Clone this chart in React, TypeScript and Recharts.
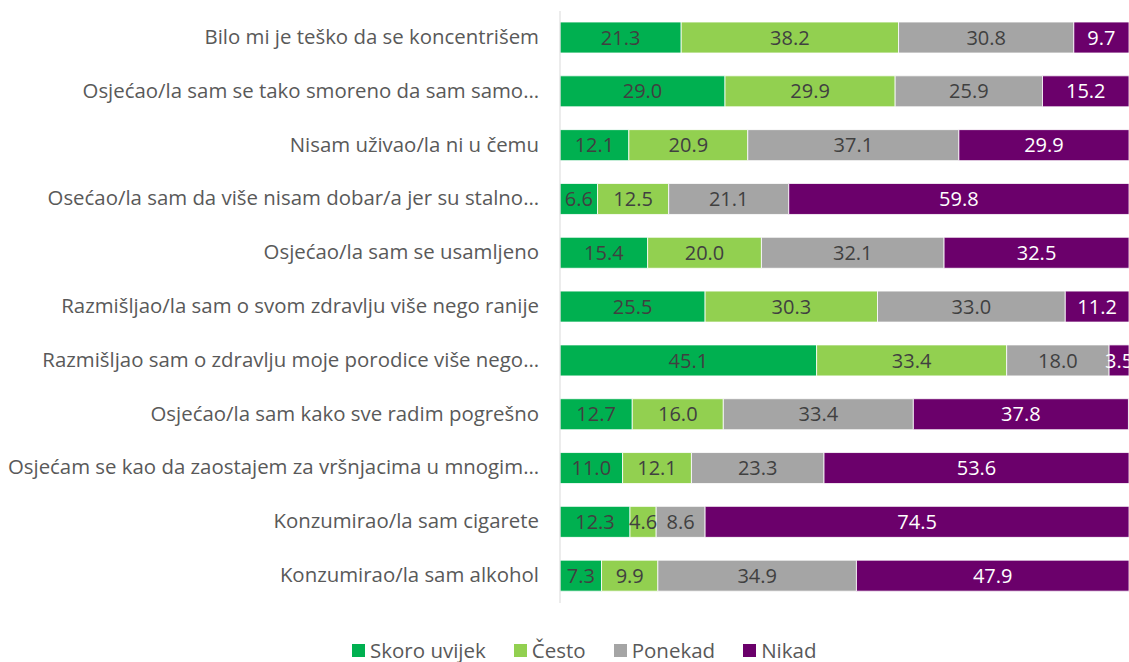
import React from 'react';
import { BarChart, Bar, XAxis, YAxis, LabelList } from 'recharts';

const categories = [
  'Bilo mi je teško da se koncentrišem',
  'Osjećao/la sam se tako smoreno da sam samo…',
  'Nisam uživao/la ni u čemu',
  'Osećao/la sam da više nisam dobar/a jer su stalno…',
  'Osjećao/la sam se usamljeno',
  'Razmišljao/la sam o svom zdravlju više nego ranije',
  'Razmišljao sam o zdravlju moje porodice više nego…',
  'Osjećao/la sam kako sve radim pogrešno',
  'Osjećam se kao da zaostajem za vršnjacima u mnogim…',
  'Konzumirao/la sam cigarete',
  'Konzumirao/la sam alkohol',
];

const skoroUvijek = [21.3, 29.0, 12.1, 6.6, 15.4, 25.5, 45.1, 12.7, 11.0, 12.3, 7.3];
const cesto = [38.2, 29.9, 20.9, 12.5, 20.0, 30.3, 33.4, 16.0, 12.1, 4.6, 9.9];
const ponekad = [30.8, 25.9, 37.1, 21.1, 32.1, 33.0, 18.0, 33.4, 23.3, 8.6, 34.9];
const nikad = [9.7, 15.2, 29.9, 59.8, 32.5, 11.2, 3.5, 37.8, 53.6, 74.5, 47.9];

const series = [
  { key: 'skoro', name: 'Skoro uvijek', color: '#00B050', label: '#404040' },
  { key: 'cesto', name: 'Često', color: '#92D050', label: '#404040' },
  { key: 'ponekad', name: 'Ponekad', color: '#A5A5A5', label: '#404040' },
  { key: 'nikad', name: 'Nikad', color: '#6B006B', label: '#ffffff' },
];

const data = categories.map((name, i) => ({
  name,
  skoro: skoroUvijek[i],
  cesto: cesto[i],
  ponekad: ponekad[i],
  nikad: nikad[i],
}));

const FONT = '"Open Sans", sans-serif';

const CategoryTick = (props: any) => {
  const { x, y, payload } = props;
  return (
    <text x={x - 13} y={y} dy={6} textAnchor="end" fill="#595959" fontSize={20.4} fontFamily={FONT}>
      {payload.value}
    </text>
  );
};

export default function App() {
  return (
    <div style={{ position: 'absolute', left: 0, top: 0, width: 1129, height: 662, background: '#fff' }}>
      <BarChart
        width={1129}
        height={662}
        data={data}
        layout="vertical"
        margin={{ top: 11, right: 0, left: 0, bottom: 59 }}
        barSize={31}
      >
        <XAxis type="number" domain={[0, 100]} hide />
        <YAxis
          type="category"
          dataKey="name"
          width={560}
          axisLine={{ stroke: '#D9D9D9' }}
          tickLine={false}
          tick={<CategoryTick />}
          interval={0}
        />
        {series.map((s) => (
          <Bar
            key={s.key}
            dataKey={s.key}
            name={s.name}
            stackId="a"
            fill={s.color}
            stroke="#ffffff"
            strokeWidth={0.8}
            isAnimationActive={false}
          >
            <LabelList
              dataKey={s.key}
              position="center"
              fill={s.label}
              fontSize={20}
              fontFamily={FONT}
              formatter={(v: any) => Number(v).toFixed(1)}
            />
          </Bar>
        ))}
      </BarChart>
      <div
        style={{
          position: 'absolute',
          left: 352,
          top: 639,
          display: 'flex',
          fontFamily: FONT,
          fontSize: 20.5,
          lineHeight: '22px',
          color: '#595959',
          whiteSpace: 'nowrap',
        }}
      >
        {series.map((s, i) => (
          <div key={s.key} style={{ display: 'flex', alignItems: 'center', marginRight: i < series.length - 1 ? 28 : 0 }}>
            <span style={{ width: 13, height: 13, background: s.color, display: 'inline-block', marginRight: 5 }} />
            <span>{s.name}</span>
          </div>
        ))}
      </div>
    </div>
  );
}
